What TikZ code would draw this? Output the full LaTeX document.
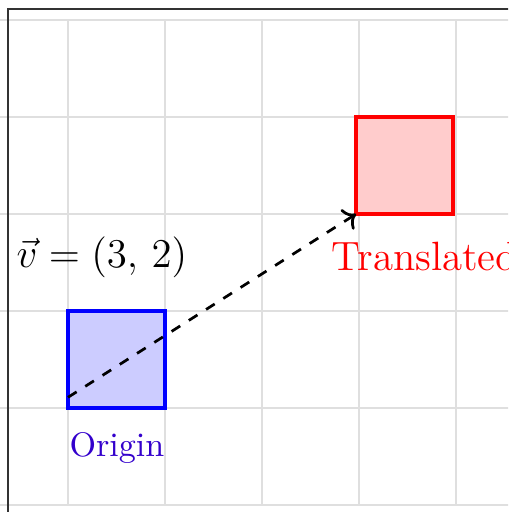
\documentclass[tikz,border=0pt]{standalone}
\usetikzlibrary{arrows.meta}
\definecolor{origincol}{RGB}{51,0,204}
\tikzset{
  gridline/.style={draw=gray!25, line width=0.5pt},
  framestyle/.style={draw=black!80, line width=0.5pt},
  shapesq/.style={line width=1pt, minimum size=1cm, inner sep=0pt, outer sep=0pt},
  lbl/.style={inner sep=0pt}
}
\begin{document}
\begin{tikzpicture}
\useasboundingbox (-0.701,-1.072) rectangle (4.536,4.206);
\begin{scope}
\clip (-0.701,-1.072) rectangle (4.536,4.206);
\draw[gridline] (-1,-1) grid (5,4);
\node[shapesq, draw=blue, fill=blue!20, anchor=south west] (orig) at (0,0) {};
\node[shapesq, draw=red, fill=red!20, anchor=south west] (trans) at (2.97,2) {};
\coordinate (start) at (0,0.11);
\draw[thick, dashed, ->] (start) -- (trans.south west);
\node[lbl, font=\large] (vlab) at (0.35,1.55) {$\vec{v} = (3,\,2)$};
\node[lbl, font=\large, text=red] (tlab) at (3.68,1.56) {Translated};
\node[lbl, text=origincol] (olab) at (0.505,-0.41) {Origin};
\draw[framestyle] (-0.619,-1.2) -- (-0.619,4.113) -- (4.7,4.113);
\end{scope}
\end{tikzpicture}
\end{document}
